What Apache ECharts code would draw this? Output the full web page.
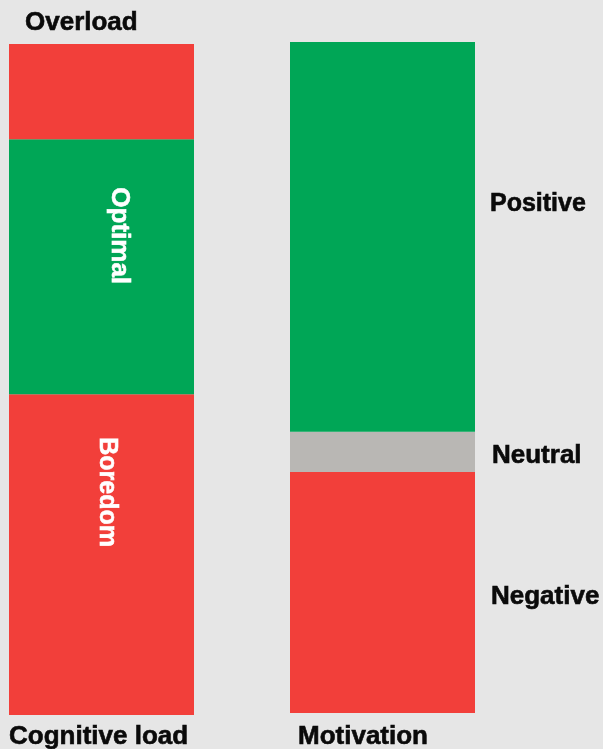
<!DOCTYPE html>
<html>
<head>
<meta charset="utf-8">
<style>
  html, body { margin: 0; padding: 0; background: #e6e6e6; }
  #chart { width: 603px; height: 749px; }
</style>
<script src="https://cdn.jsdelivr.net/npm/echarts@6/dist/echarts.min.js"></script>
</head>
<body>
<div id="chart"></div>
<script>
// Data (share of bar height, %), bottom to top
const loadCategories = ['Boredom', 'Optimal', 'Overload'];
const loadValues = [47.8, 38.0, 14.2];
const motivationCategories = ['Negative', 'Neutral', 'Positive'];
const motivationValues = [35.9, 6.0, 58.1];
const axisTitles = ['Cognitive load', 'Motivation'];

const RED = '#f23f3a', GREEN = '#00a656', GRAY = '#b9b7b4', INK = '#0a0a0a';
const FONT = '"Liberation Sans", Arial, sans-serif';

function txt(color, size) {
  return { color, fontSize: size, fontWeight: 'bold', fontFamily: FONT,
           textBorderColor: color, textBorderWidth: 0.6 };
}

const loadColors = [RED, GREEN, RED];
const loadLabels = [
  Object.assign(txt('#fff', 25), { rotate: -90, position: [98, 43], align: 'left', verticalAlign: 'middle' }),
  Object.assign(txt('#fff', 26), { rotate: -90, position: [110, 48], align: 'left', verticalAlign: 'middle' }),
  Object.assign(txt(INK, 26), { position: [16, -21], align: 'left', verticalAlign: 'middle' })
];
const motColors = [RED, GRAY, GREEN];
const motLabels = [
  Object.assign(txt(INK, 26), { position: 'right', distance: 16, offset: [0, 4] }),
  Object.assign(txt(INK, 26), { position: 'right', distance: 17, offset: [0, 4] }),
  Object.assign(txt(INK, 25), { position: 'right', distance: 15, offset: [0, -33] })
];

const series = [];
loadCategories.forEach((name, i) => {
  series.push({
    type: 'bar', name, stack: 'load', xAxisIndex: 0, yAxisIndex: 0,
    barWidth: '100%', data: [loadValues[i]],
    itemStyle: { color: loadColors[i] },
    label: Object.assign({ show: true, formatter: name }, loadLabels[i])
  });
});
motivationCategories.forEach((name, i) => {
  series.push({
    type: 'bar', name, stack: 'mot', xAxisIndex: 1, yAxisIndex: 1,
    barWidth: '100%', data: [motivationValues[i]],
    itemStyle: { color: motColors[i] },
    label: Object.assign({ show: true, formatter: name }, motLabels[i])
  });
});

const chart = echarts.init(document.getElementById('chart'));
chart.setOption({
  backgroundColor: '#e6e6e6',
  animation: false,
  title: [
    { text: axisTitles[0], left: 9, top: 724, padding: 0, textStyle: txt(INK, 26) },
    { text: axisTitles[1], left: 298, top: 724, padding: 0, textStyle: txt(INK, 26) }
  ],
  grid: [
    { left: 9, top: 44, width: 185, height: 671 },
    { left: 290, top: 42, width: 185, height: 671 }
  ],
  xAxis: [
    { type: 'category', gridIndex: 0, data: [axisTitles[0]], show: false },
    { type: 'category', gridIndex: 1, data: [axisTitles[1]], show: false }
  ],
  yAxis: [
    { type: 'value', gridIndex: 0, min: 0, max: 100, show: false },
    { type: 'value', gridIndex: 1, min: 0, max: 100, show: false }
  ],
  series
});
</script>
</body>
</html>
